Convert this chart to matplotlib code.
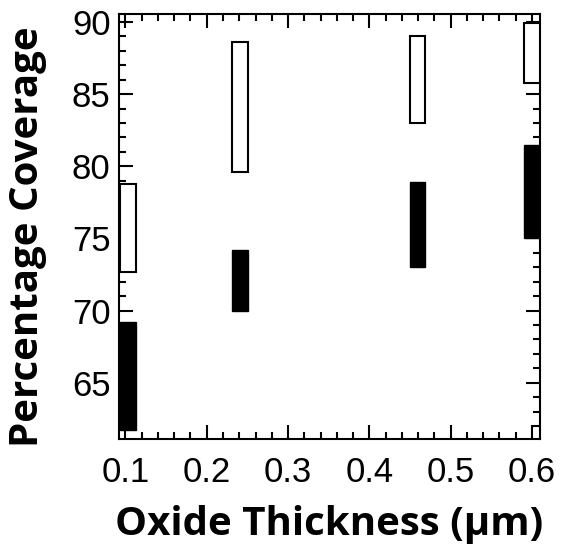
import matplotlib as mpl
import matplotlib.pyplot as plt
from matplotlib.ticker import MultipleLocator

mpl.rcParams['axes.linewidth'] = 1.5

# oxide thickness (um)
thickness = [0.103, 0.241, 0.459, 0.600]

# open boxes (upper range)
open_low = [72.7, 79.6, 83.0, 85.8]
open_high = [78.8, 88.6, 89.0, 89.9]

# filled boxes (lower range)
filled_low = [61.7, 70.0, 73.0, 75.0]
filled_high = [69.2, 74.2, 78.9, 81.5]

fig = plt.figure(figsize=(5.61, 5.56), dpi=100)
ax = fig.add_axes([0.212, 0.2104, 0.7506, 0.7644])

w = 0.019
ax.bar(thickness, [h - l for l, h in zip(open_low, open_high)], bottom=open_low,
       width=w, facecolor='white', edgecolor='black', linewidth=1.5, zorder=3)
ax.bar(thickness, [h - l for l, h in zip(filled_low, filled_high)], bottom=filled_low,
       width=w, facecolor='black', edgecolor='black', linewidth=1.0, zorder=3)

ax.set_xlim(0.092, 0.610)
ax.set_ylim(61.1, 90.55)

ax.xaxis.set_minor_locator(MultipleLocator(0.02))
ax.yaxis.set_minor_locator(MultipleLocator(1))
ax.set_xticks([0.1, 0.2, 0.3, 0.4, 0.5, 0.6])
ax.set_xticklabels(['0.1', '0.2', '0.3', '0.4', '0.5', '0.6'])
ax.set_yticks([65, 70, 75, 80, 85, 90])

ax.tick_params(which='both', direction='in', top=True, right=True, width=1.5)
ax.tick_params(which='major', length=10, labelsize=25)
ax.tick_params(which='minor', length=5)
ax.tick_params(axis='x', which='major', pad=12)
ax.tick_params(axis='y', which='major', pad=6)
for label in ax.get_xticklabels() + ax.get_yticklabels():
    label.set_family('Liberation Sans')

ax.set_xlabel('Oxide Thickness (µm)', fontsize=29, fontweight='bold',
              family='Open Sans', labelpad=12)
ax.set_ylabel('Percentage Coverage', fontsize=29, fontweight='bold',
              family='Open Sans')
ax.yaxis.set_label_coords(-0.170, 0.475)

fig.savefig('out.png', dpi=100)
